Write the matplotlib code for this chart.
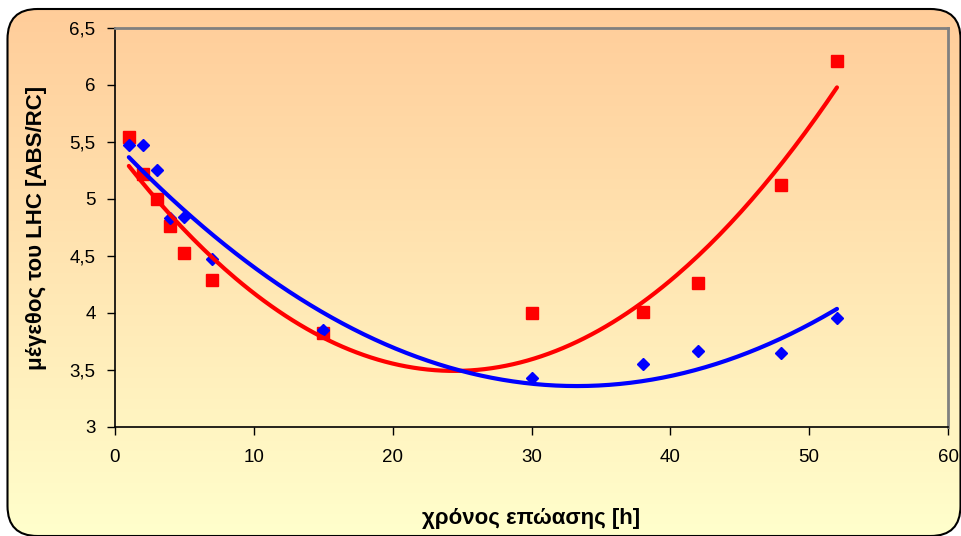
import numpy as np
import matplotlib.pyplot as plt
from matplotlib.patches import FancyBboxPatch
from matplotlib.colors import LinearSegmentedColormap

plt.rcParams['font.family'] = ['Liberation Sans', 'DejaVu Sans']

# incubation time [h]
hours = [1, 2, 3, 4, 5, 7, 15, 30, 38, 42, 48, 52]
# LHC size (ABS/RC), two series
red_vals = [5.54, 5.22, 5.00, 4.76, 4.53, 4.29, 3.82, 4.00, 4.01, 4.26, 5.12, 6.21]
blue_vals = [5.47, 5.47, 5.25, 4.83, 4.84, 4.47, 3.85, 3.43, 3.55, 3.67, 3.65, 3.96]

x_ticks = [0, 10, 20, 30, 40, 50, 60]
y_ticks = [3, 3.5, 4, 4.5, 5, 5.5, 6, 6.5]

W, H = 962, 536
fig = plt.figure(figsize=(W / 100, H / 100), dpi=100)

# gradient backdrop with rounded frame (pixel coordinates)
bg = fig.add_axes([0, 0, 1, 1])
bg.axis('off')
cmap = LinearSegmentedColormap.from_list('bg', ['#FFFFCC', '#FFCC99'])
grad = np.linspace(0, 1, 256).reshape(-1, 1)
img = bg.imshow(grad, cmap=cmap, aspect='auto', extent=[0, W, 0, H], origin='lower')
frame = FancyBboxPatch((7.5, 0), 953, H - 9,
                       boxstyle='round,pad=0,rounding_size=30',
                       facecolor='none', edgecolor='black', linewidth=1.5)
bg.add_patch(frame)
img.set_clip_path(frame)
bg.set_xlim(0, W)
bg.set_ylim(0, H)

ax = fig.add_axes([0.1195, 0.2034, 0.866, 0.7444])
ax.patch.set_alpha(0)

xs = np.linspace(min(hours), max(hours), 200)
red_fit = np.polyval(np.polyfit(hours, red_vals, 2), xs)
blue_fit = np.polyval(np.polyfit(hours, blue_vals, 2), xs)

ax.plot(hours, red_vals, 's', color='#FF0000', markersize=9, zorder=3)
ax.plot(hours, blue_vals, 'D', color='#0000FF', markersize=6.5, zorder=3)
ax.plot(xs, red_fit, color='#FF0000', linewidth=3, solid_capstyle='round', zorder=4)
ax.plot(xs, blue_fit, color='#0000FF', linewidth=3, solid_capstyle='round', zorder=4)

ax.set_xlim(0, 60)
ax.set_ylim(3, 6.5)
ax.set_xticks(x_ticks)
ax.set_yticks(y_ticks)
ax.set_yticklabels([f'{v:g}'.replace('.', ',') for v in y_ticks])
ax.tick_params(axis='both', direction='out', length=6, width=1, labelsize=13.5, colors='black')
ax.tick_params(axis='x', pad=10)
ax.tick_params(axis='y', pad=8)

for side in ['left', 'bottom']:
    ax.spines[side].set_color('black')
    ax.spines[side].set_linewidth(1.2)
for side in ['top', 'right']:
    ax.spines[side].set_color('#808080')
    ax.spines[side].set_linewidth(2)

ax.set_xlabel('χρόνος επώασης [h]', fontsize=16, fontweight='bold', labelpad=30)
ax.set_ylabel('μέγεθος του LHC [ABS/RC]', fontsize=16, fontweight='bold', labelpad=16)

fig.savefig('out.png', dpi=100)
